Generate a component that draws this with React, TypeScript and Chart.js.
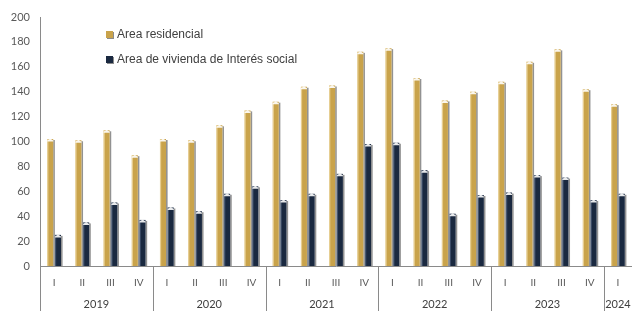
import React, { useEffect, useRef } from "react";
import { Chart, registerables } from "chart.js";

Chart.register(...registerables);

const quarters = ["I","II","III","IV","I","II","III","IV","I","II","III","IV","I","II","III","IV","I","II","III","IV","I"];
const years = ["2019", "2020", "2021", "2022", "2023", "2024"];
const yearSpans = [4, 4, 4, 4, 4, 1];
const residencial = [102,101,109,89,102,101,113,125,132,144,145,172,175,151,133,140,148,164,174,142,130];
const social = [25,35,51,37,47,44,58,64,53,58,74,98,99,77,42,57,59,73,71,53,58];
const seriesNames = ["Area residencial", "Area de vivienda de Interés social"];

const GOLD = "#C9A34B";
const NAVY = "#1A2940";
const FONT = "Lato, 'Liberation Sans', sans-serif";
const LEGEND_FONT = "'Liberation Sans', Arial, sans-serif";

const barShade = {
  id: "barShade",
  beforeDatasetsDraw(chart: any) {
    const ctx = chart.ctx;
    ctx.save();
    chart.data.datasets.forEach((_: any, di: number) => {
      const meta = chart.getDatasetMeta(di);
      meta.data.forEach((bar: any) => {
        const w = bar.width;
        const right = bar.x + w / 2;
        ctx.fillStyle = "rgba(110,110,110,0.75)";
        ctx.fillRect(right, bar.y + 1, 1.6, bar.base - bar.y - 1);
      });
    });
    ctx.restore();
  },
  afterDatasetsDraw(chart: any) {
    const ctx = chart.ctx;
    ctx.save();
    chart.data.datasets.forEach((_: any, di: number) => {
      const meta = chart.getDatasetMeta(di);
      meta.data.forEach((bar: any) => {
        const w = bar.width;
        const left = bar.x - w / 2;
        ctx.fillStyle = di === 0 ? "rgba(255,240,200,0.55)" : "rgba(120,140,170,0.45)";
        ctx.fillRect(left, bar.y, 1.2, bar.base - bar.y);
        ctx.fillStyle = "rgba(255,255,255,0.9)";
        ctx.beginPath();
        ctx.moveTo(left, bar.y + 1.5);
        ctx.lineTo(bar.x, bar.y - 0.5);
        ctx.lineTo(left + w, bar.y + 1.5);
        ctx.lineTo(left + w, bar.y + 2.5);
        ctx.lineTo(left, bar.y + 2.5);
        ctx.closePath();
        ctx.fill();
      });
    });
    ctx.restore();
  },
};

const axisDecor = {
  id: "axisDecor",
  afterDraw(chart: any) {
    const ctx = chart.ctx;
    const xs = chart.scales.x;
    const area = chart.chartArea;
    const half = (xs.getPixelForValue(1) - xs.getPixelForValue(0)) / 2;
    const bottom = chart.height;
    ctx.save();
    ctx.strokeStyle = "#8a8a8a";
    ctx.lineWidth = 1;
    ctx.beginPath();
    ctx.moveTo(Math.round(area.left) + 0.5, area.bottom);
    ctx.lineTo(Math.round(area.left) + 0.5, bottom);
    ctx.stroke();
    let start = 0;
    ctx.font = "11px " + FONT;
    ctx.fillStyle = "#404040";
    ctx.textAlign = "center";
    ctx.textBaseline = "middle";
    years.forEach((y, i) => {
      const end = start + yearSpans[i] - 1;
      const l = xs.getPixelForValue(start) - half;
      const r = xs.getPixelForValue(end) + half;
      if (i > 0) {
        ctx.beginPath();
        ctx.moveTo(Math.round(l) + 0.5, area.bottom);
        ctx.lineTo(Math.round(l) + 0.5, bottom);
        ctx.stroke();
      }
      ctx.fillText(y, (l + Math.min(r, chart.width)) / 2, 304);
      start = end + 1;
    });
    ctx.font = "12px " + LEGEND_FONT;
    ctx.textAlign = "left";
    const lx = 106;
    const ly = [35, 60];
    [GOLD, NAVY].forEach((c, i) => {
      ctx.fillStyle = "rgba(110,110,110,0.8)";
      ctx.fillRect(lx + 1, ly[i] - 3, 7, 7);
      ctx.fillStyle = c;
      ctx.fillRect(lx, ly[i] - 4, 7, 7);
      ctx.fillStyle = "#404040";
      ctx.fillText(seriesNames[i], lx + 11, ly[i]);
    });
    ctx.restore();
  },
};

export default function App() {
  const ref = useRef<HTMLCanvasElement>(null);
  useEffect(() => {
    document.body.style.margin = "0";
    const chart = new Chart(ref.current!, {
      type: "bar",
      data: {
        labels: quarters,
        datasets: [
          { label: seriesNames[0], data: residencial, backgroundColor: GOLD, categoryPercentage: 0.55, barPercentage: 0.78 },
          { label: seriesNames[1], data: social, backgroundColor: NAVY, categoryPercentage: 0.55, barPercentage: 0.78 },
        ],
      },
      options: {
        animation: false,
        responsive: true,
        maintainAspectRatio: false,
        layout: { padding: { top: 17, right: 0, left: 0, bottom: 0 } },
        plugins: { legend: { display: false }, tooltip: { enabled: false } },
        scales: {
          x: {
            grid: { display: false, drawTicks: false },
            border: { color: "#8a8a8a" },
            ticks: { color: "#595959", font: { size: 10, family: FONT }, padding: 11, autoSkip: false, maxRotation: 0 },
            afterFit: (s: any) => { s.height = 45; },
          },
          y: {
            min: 0,
            max: 200,
            grid: { display: false, drawTicks: false },
            border: { color: "#8a8a8a" },
            ticks: { stepSize: 20, color: "#595959", font: { size: 11, family: FONT }, padding: 10 },
            afterFit: (s: any) => { s.width = 40; },
          },
        },
      },
      plugins: [barShade, axisDecor],
    });
    return () => chart.destroy();
  }, []);
  return (
    <div style={{ width: 632, height: 311, position: "relative", background: "#fff" }}>
      <canvas ref={ref} />
    </div>
  );
}
